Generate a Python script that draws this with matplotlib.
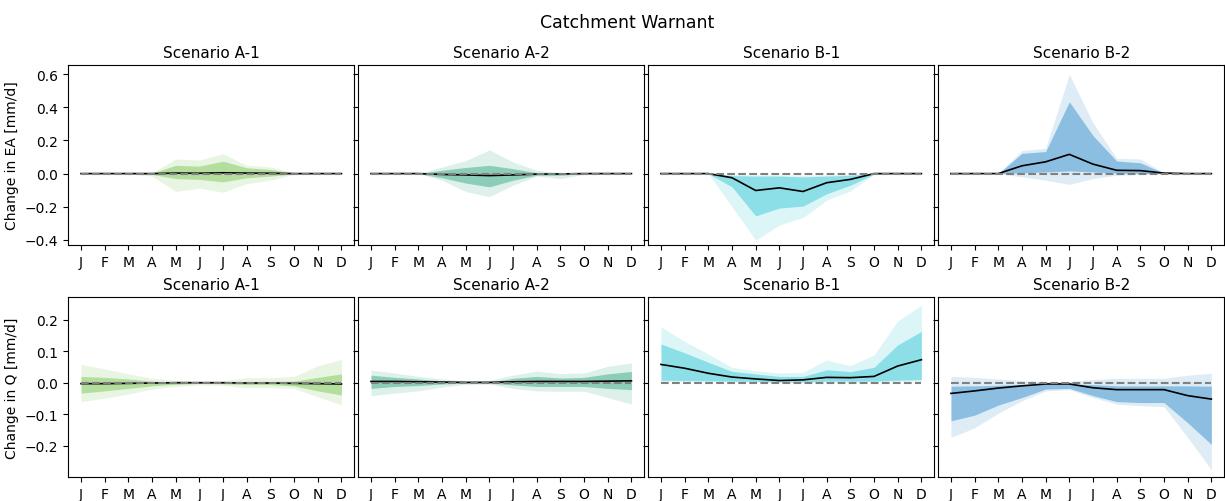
import numpy as np
import matplotlib.pyplot as plt

months = ['J', 'F', 'M', 'A', 'M', 'J', 'J', 'A', 'S', 'O', 'N', 'D']
scenarios = ['Scenario A-1', 'Scenario A-2', 'Scenario B-1', 'Scenario B-2']
colors = ['#6bbf3f', '#1b9e77', '#17becf', '#2786c9']

# each block: [outer low, inner low, median, inner high, outer high]
ea_a1 = [[0, 0, 0, -0.015, -0.108, -0.088, -0.112, -0.06, -0.04, -0.005, 0, 0],
         [0, 0, 0, -0.005, -0.03, -0.035, -0.05, -0.025, -0.015, -0.002, 0, 0],
         [0, 0, 0, 0, 0.003, 0.002, 0.005, 0.003, 0.002, 0, 0, 0],
         [0, 0, 0, 0.002, 0.05, 0.045, 0.075, 0.035, 0.025, 0.002, 0, 0],
         [0, 0, 0, 0.005, 0.088, 0.082, 0.12, 0.05, 0.04, 0.005, 0, 0]]
ea_a2 = [[0, 0, 0, -0.04, -0.108, -0.139, -0.07, -0.015, -0.03, -0.005, 0, 0],
         [0, 0, 0, -0.025, -0.057, -0.08, -0.04, -0.01, -0.01, 0, 0, 0],
         [0, 0, 0, -0.005, -0.008, -0.012, -0.008, -0.003, -0.002, 0, 0, 0],
         [0, 0, 0, 0.02, 0.037, 0.05, 0.03, 0.005, 0, 0, 0, 0],
         [0, 0, 0, 0.04, 0.078, 0.143, 0.07, 0.02, 0.005, 0, 0, 0]]
ea_b1 = [[0, 0, 0, -0.2, -0.402, -0.31, -0.265, -0.16, -0.105, -0.005, 0, 0],
         [0, 0, 0, -0.08, -0.255, -0.208, -0.196, -0.122, -0.07, -0.003, 0, 0],
         [0, 0, 0, -0.025, -0.102, -0.086, -0.108, -0.055, -0.035, 0, 0, 0],
         [0, 0, 0, -0.012, -0.015, -0.015, -0.02, -0.015, -0.01, 0, 0, 0],
         [0, 0, 0, -0.005, -0.008, -0.008, -0.01, -0.008, -0.005, 0, 0, 0]]
ea_b2 = [[0, 0, 0, -0.02, -0.04, -0.065, -0.03, -0.01, -0.005, 0, 0, 0],
         [0, 0, 0, 0.005, 0.01, 0.016, 0.01, 0.003, 0.002, 0, 0, 0],
         [0, 0, 0, 0.047, 0.071, 0.116, 0.057, 0.02, 0.018, 0.003, 0, 0],
         [0, 0, 0, 0.122, 0.133, 0.433, 0.229, 0.076, 0.065, 0.002, 0, 0],
         [0, 0, 0, 0.139, 0.153, 0.598, 0.306, 0.092, 0.088, 0.005, 0, 0]]

q_a1 = [[-0.06, -0.049, -0.036, -0.02, -0.012, -0.007, -0.008, -0.016, -0.016, -0.018, -0.045, -0.07],
        [-0.033, -0.026, -0.018, -0.01, -0.005, -0.002, -0.003, -0.006, -0.006, -0.01, -0.026, -0.039],
        [-0.003, -0.003, -0.002, -0.001, 0, 0, 0, -0.001, -0.001, -0.002, -0.003, -0.004],
        [0.02, 0.017, 0.012, 0.005, 0.002, 0.001, 0.002, 0.004, 0.004, 0.005, 0.017, 0.028],
        [0.058, 0.044, 0.028, 0.014, 0.008, 0.005, 0.006, 0.016, 0.016, 0.02, 0.054, 0.074]]
q_a2 = [[-0.041, -0.033, -0.026, -0.014, -0.005, -0.004, -0.018, -0.026, -0.027, -0.027, -0.047, -0.068],
        [-0.018, -0.012, -0.009, -0.004, -0.001, -0.001, -0.007, -0.012, -0.012, -0.012, -0.018, -0.022],
        [0.004, 0.004, 0.003, 0.002, 0.001, 0.001, 0.003, 0.004, 0.004, 0.004, 0.005, 0.006],
        [0.024, 0.017, 0.012, 0.006, 0.002, 0.002, 0.014, 0.02, 0.015, 0.017, 0.028, 0.036],
        [0.04, 0.031, 0.02, 0.012, 0.006, 0.007, 0.024, 0.037, 0.029, 0.031, 0.052, 0.063]]
q_b1 = [[0.004, 0.004, 0.003, 0.002, 0.002, 0.001, 0.001, 0.002, 0.002, 0.002, 0.004, 0.005],
        [0.008, 0.007, 0.006, 0.005, 0.004, 0.003, 0.003, 0.005, 0.005, 0.005, 0.008, 0.01],
        [0.058, 0.046, 0.03, 0.018, 0.012, 0.007, 0.009, 0.017, 0.016, 0.02, 0.053, 0.073],
        [0.123, 0.095, 0.065, 0.036, 0.028, 0.02, 0.02, 0.041, 0.035, 0.049, 0.12, 0.163],
        [0.177, 0.131, 0.091, 0.049, 0.038, 0.031, 0.033, 0.072, 0.054, 0.088, 0.196, 0.246]]
q_b2 = [[-0.174, -0.143, -0.097, -0.057, -0.026, -0.022, -0.047, -0.068, -0.073, -0.076, -0.174, -0.276],
        [-0.121, -0.103, -0.071, -0.047, -0.02, -0.018, -0.041, -0.06, -0.063, -0.063, -0.127, -0.196],
        [-0.034, -0.026, -0.017, -0.01, -0.004, -0.004, -0.016, -0.022, -0.022, -0.022, -0.041, -0.052],
        [-0.011, -0.01, -0.008, -0.006, -0.004, -0.004, -0.006, -0.01, -0.01, -0.01, -0.01, -0.011],
        [0.02, 0.017, 0.012, 0.007, 0.004, 0.004, 0.01, 0.014, 0.014, 0.014, 0.024, 0.03]]

rows = [[ea_a1, ea_a2, ea_b1, ea_b2], [q_a1, q_a2, q_b1, q_b2]]
ylabels = ['Change in EA [mm/d]', 'Change in Q [mm/d]']
ylims = [(-0.43, 0.655), (-0.299, 0.272)]
alphas = [0.42, 0.42, 0.4, 0.45]

fig, axes = plt.subplots(2, 4, figsize=(12.25, 5.02), dpi=100, sharey='row')
fig.subplots_adjust(left=0.0555, right=0.9995, top=0.8685, bottom=0.048,
                    wspace=0.0122, hspace=0.29)

x = np.arange(len(months))
for r in range(2):
    for c in range(4):
        ax = axes[r, c]
        lo, ilo, med, ihi, hi = [np.array(v) for v in rows[r][c]]
        ax.fill_between(x, lo, hi, color=colors[c], alpha=0.15, lw=0)
        ax.fill_between(x, ilo, ihi, color=colors[c], alpha=alphas[c], lw=0)
        ax.plot(x, med, color='black', lw=1.2)
        ax.plot(x, np.zeros(len(x)), '--', color='grey', lw=1.5)
        ax.set_xticks(x)
        ax.set_xticklabels(months)
        ax.set_title(scenarios[c], fontsize=11)
        ax.set_ylim(ylims[r])
    axes[r, 0].set_ylabel(ylabels[r])

fig.suptitle('Catchment Warnant', fontsize=12.5, x=0.512, y=0.972)
fig.savefig('out.png', dpi=100)
